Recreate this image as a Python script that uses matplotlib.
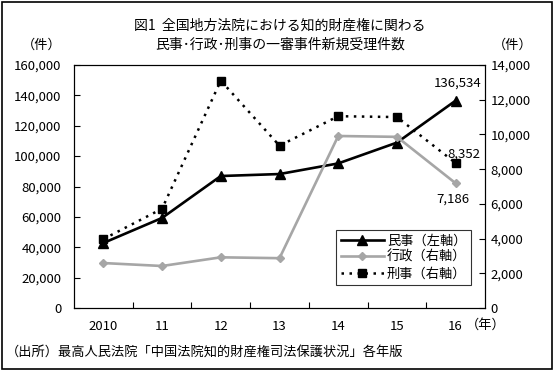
import matplotlib
matplotlib.use("Agg")
import matplotlib.pyplot as plt
from matplotlib.patches import Rectangle

plt.rcParams['font.family'] = ['Noto Sans CJK JP', 'DejaVu Sans']

years = ["2010", "11", "12", "13", "14", "15", "16"]
civil = [42800, 59300, 86900, 88200, 95200, 108900, 136534]      # left axis
admin = [2590, 2420, 2920, 2870, 9910, 9860, 7186]               # right axis
criminal = [3970, 5720, 13100, 9350, 11050, 11000, 8352]         # right axis
left_ticks = [0, 20000, 40000, 60000, 80000, 100000, 120000, 140000, 160000]
right_ticks = [0, 2000, 4000, 6000, 8000, 10000, 12000, 14000]

W, H = 555, 373
fig = plt.figure(figsize=(W / 100, H / 100), dpi=100)

ax = fig.add_axes([74 / W, 1 - 308 / H, 411 / W, 243 / H])
ax2 = ax.twinx()

x = list(range(len(years)))
l1, = ax.plot(x, civil, color='black', lw=1.9, marker='^', ms=7.5,
              label='民事（左軸）', zorder=4)
l2, = ax2.plot(x, admin, color='#a6a6a6', lw=1.9, marker='D', ms=4,
               label='行政（右軸）', zorder=3)
l3, = ax2.plot(x, criminal, color='black', lw=1.8, ls=(0, (1, 2.2)),
               marker='s', ms=6, label='刑事（右軸）', zorder=3)

ax.set_xlim(-0.5, len(years) - 0.5)
ax.set_ylim(0, 160000)
ax2.set_ylim(0, 14000)
ax.set_yticks(left_ticks)
ax.set_yticklabels([f"{v:,}" for v in left_ticks])
ax2.set_yticks(right_ticks)
ax2.set_yticklabels([f"{v:,}" for v in right_ticks])
ax.set_xticks([i + 0.5 for i in x[:-1]])
ax.set_xticklabels([])
ax.set_xticks(x, minor=True)
ax.set_xticklabels(years, minor=True)

ax.tick_params(axis='x', which='major', direction='in', length=4, width=0.8)
ax.tick_params(axis='x', which='minor', length=0, pad=9, labelsize=9.5)
ax.tick_params(axis='y', direction='in', length=4, width=0.8, pad=9, labelsize=9.5)
ax2.tick_params(axis='y', direction='in', length=4, width=0.8, pad=4, labelsize=9.5)
for a in (ax, ax2):
    for s in a.spines.values():
        s.set_linewidth(0.8)

# value labels
ax.annotate(f"{civil[-1]:,}", (x[-1], civil[-1]), xytext=(26, 17),
            textcoords='offset pixels', ha='right', va='center', fontsize=9.5)
ax2.annotate(f"{criminal[-1]:,}", (x[-1], criminal[-1]), xytext=(25, 9),
             textcoords='offset pixels', ha='right', va='center', fontsize=9.5)
ax2.annotate(f"{admin[-1]:,}", (x[-1], admin[-1]), xytext=(14, -16),
             textcoords='offset pixels', ha='right', va='center', fontsize=9.5)

leg = ax2.legend(handles=[l1, l2, l3], loc='upper left',
                 bbox_to_anchor=((336 - 74) / 411, (308 - 230) / 243),
                 frameon=True, fancybox=False, edgecolor='black',
                 fontsize=9.5, handlelength=3.3, handletextpad=0.2,
                 borderpad=0.35, labelspacing=0.25, borderaxespad=0)
leg.get_frame().set_linewidth(0.8)

# titles and unit labels
fig.text(280 / W, 1 - 26 / H, "図1  全国地方法院における知的財産権に関わる",
         ha='center', va='center', fontsize=10)
fig.text(280 / W, 1 - 45 / H, "民事･行政･刑事の一審事件新規受理件数",
         ha='center', va='center', fontsize=10)
fig.text(42 / W, 1 - 45 / H, "（件）", ha='center', va='center', fontsize=9.5)
fig.text(513 / W, 1 - 45 / H, "（件）", ha='center', va='center', fontsize=9.5)
fig.text(486 / W, 1 - 325 / H, "（年）", ha='center', va='center', fontsize=9.5)
fig.text(6 / W, 1 - 352 / H, "（出所）最高人民法院「中国法院知的財産権司法保護状況」各年版",
         ha='left', va='center', fontsize=9.5)

# outer frame
fig.patches.append(Rectangle((2 / W, 1 - 369 / H), 550 / W, 367 / H,
                             transform=fig.transFigure, fill=False,
                             edgecolor='black', lw=1.2))

fig.savefig("out.png", dpi=100)
